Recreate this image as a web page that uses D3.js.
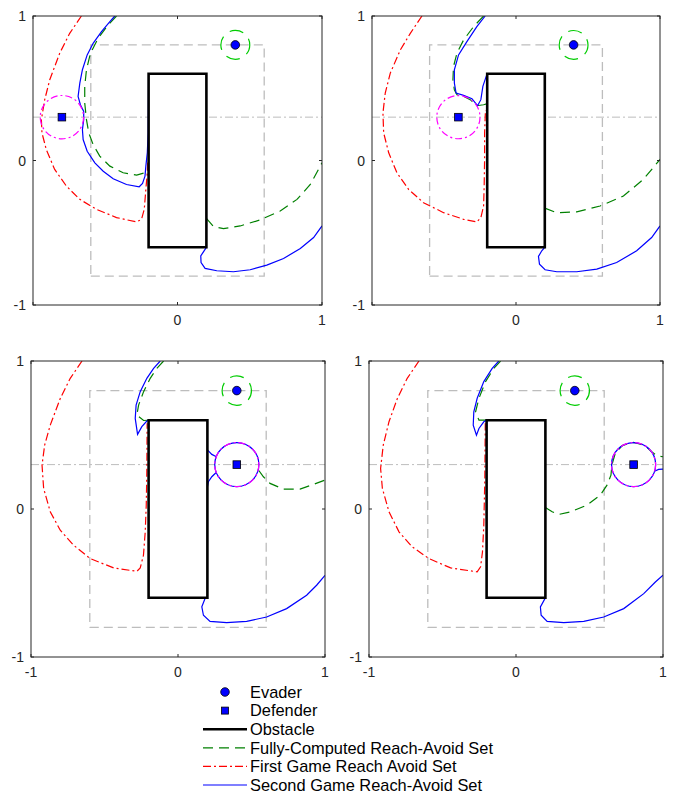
<!DOCTYPE html>
<html>
<head>
<meta charset="utf-8">
<script src="https://cdn.jsdelivr.net/npm/d3@7"></script>
<style>
  body { margin: 0; background: #fff; }
  text { font-family: "Liberation Sans", Arial, sans-serif; }
</style>
</head>
<body>
<div id="chartContainer"></div>
<script>
// reach-avoid game snapshots, 4 panels

var evader = [0.4, 0.8];
var evaderRadius = 0.1;
var defenders = [[-0.8, 0.3], [-0.4, 0.3], [0.4, 0.3], [0.8, 0.3]];
var captureRadius = 0.15;
var obstacle = [[-0.2, -0.6], [0.2, -0.6], [0.2, 0.6], [-0.2, 0.6], [-0.2, -0.6]];
var targetBox = [[-0.6, -0.8], [0.6, -0.8], [0.6, 0.8], [-0.6, 0.8], [-0.6, -0.8]];
var guideY = 0.3;
var ringPanels = [2, 3]; // panels where second set wraps the capture circle

var xTicks = [[0, 1], [0, 1], [-1, 0, 1], [-1, 0, 1]];
var yTicks = [-1, 0, 1];

// Fully-Computed Reach-Avoid Set (green dashed), pieces per panel
var fullSet = [
  [
    [[-0.422, 1.0], [-0.480, 0.938], [-0.549, 0.846], [-0.602, 0.743], [-0.630, 0.628], [-0.642, 0.513], [-0.642, 0.398], [-0.630, 0.283], [-0.614, 0.191], [-0.584, 0.110], [-0.538, 0.030], [-0.468, -0.039], [-0.376, -0.085], [-0.283, -0.101], [-0.225, -0.085], [-0.2, -0.06]],
    [[0.2, -0.40], [0.249, -0.457], [0.318, -0.471], [0.434, -0.453], [0.572, -0.411], [0.711, -0.349], [0.827, -0.269], [0.919, -0.166], [1.0, -0.016]]
  ],
  [
    [[-0.225, 1.0], [-0.295, 0.926], [-0.364, 0.834], [-0.410, 0.743], [-0.434, 0.651], [-0.438, 0.559], [-0.428, 0.490], [-0.410, 0.455], [-0.364, 0.444], [-0.318, 0.421], [-0.272, 0.379], [-0.225, 0.386], [-0.2, 0.393]],
    [[0.2, -0.33], [0.283, -0.361], [0.422, -0.356], [0.584, -0.315], [0.746, -0.246], [0.884, -0.131], [1.0, 0.007]]
  ],
  [
    [[-0.098, 1.0], [-0.144, 0.950], [-0.189, 0.883], [-0.234, 0.793], [-0.268, 0.702], [-0.280, 0.635], [-0.234, 0.598], [-0.2, 0.6]],
    [[0.55, 0.26], [0.581, 0.218], [0.626, 0.173], [0.717, 0.134], [0.830, 0.134], [0.921, 0.166], [1.0, 0.195]]
  ],
  [
    [[-0.105, 1.0], [-0.151, 0.950], [-0.207, 0.861], [-0.252, 0.748], [-0.275, 0.657], [-0.252, 0.600], [-0.2, 0.6]],
    [[0.2, 0.01], [0.246, -0.019], [0.291, -0.037], [0.370, -0.019], [0.483, 0.026], [0.574, 0.094], [0.619, 0.161], [0.646, 0.229], [0.653, 0.300], [0.675, 0.375], [0.725, 0.430], [0.800, 0.450], [0.875, 0.430], [0.925, 0.385], [0.96, 0.36], [1.0, 0.353]]
  ]
];

// First Game Reach Avoid Set (red dash-dot)
var firstSet = [
  [
    [[-0.665, 1.0], [-0.746, 0.880], [-0.815, 0.743], [-0.884, 0.559], [-0.919, 0.421], [-0.942, 0.283], [-0.938, 0.191], [-0.908, 0.076], [-0.850, -0.062], [-0.769, -0.177], [-0.676, -0.269], [-0.561, -0.338], [-0.422, -0.395], [-0.283, -0.425], [-0.249, -0.407], [-0.230, -0.338], [-0.219, -0.200], [-0.209, -0.085], [-0.205, 0.0]]
  ],
  [
    [[-0.653, 1.0], [-0.734, 0.880], [-0.803, 0.766], [-0.873, 0.605], [-0.908, 0.467], [-0.924, 0.329], [-0.919, 0.191], [-0.884, 0.053], [-0.827, -0.085], [-0.746, -0.200], [-0.642, -0.292], [-0.503, -0.361], [-0.364, -0.407], [-0.272, -0.425], [-0.244, -0.395], [-0.225, -0.315], [-0.221, -0.177], [-0.218, 0.007], [-0.218, 0.191], [-0.212, 0.35]]
  ],
  [
    [[-0.653, 1.0], [-0.733, 0.883], [-0.801, 0.747], [-0.869, 0.567], [-0.907, 0.432], [-0.925, 0.297], [-0.914, 0.139], [-0.869, -0.019], [-0.801, -0.143], [-0.710, -0.245], [-0.597, -0.335], [-0.438, -0.398], [-0.280, -0.421], [-0.257, -0.398], [-0.235, -0.313], [-0.223, -0.155], [-0.216, 0.026], [-0.212, 0.251], [-0.210, 0.58]]
  ],
  [
    [[-0.660, 1.0], [-0.740, 0.883], [-0.807, 0.747], [-0.864, 0.590], [-0.903, 0.432], [-0.921, 0.274], [-0.909, 0.139], [-0.864, -0.019], [-0.796, -0.154], [-0.706, -0.256], [-0.592, -0.335], [-0.445, -0.398], [-0.264, -0.425], [-0.241, -0.391], [-0.228, -0.290], [-0.219, -0.110], [-0.212, 0.206], [-0.209, 0.58]]
  ]
];

// Second Game Reach-Avoid Set (blue solid)
var secondSet = [
  [
    [[-0.434, 1.0], [-0.468, 0.961], [-0.526, 0.892], [-0.584, 0.811], [-0.625, 0.731], [-0.658, 0.628], [-0.676, 0.536], [-0.688, 0.444], [-0.672, 0.386], [-0.649, 0.340], [-0.649, 0.283], [-0.658, 0.214], [-0.653, 0.145], [-0.625, 0.064], [-0.572, -0.016], [-0.514, -0.074], [-0.445, -0.126], [-0.353, -0.166], [-0.265, -0.182], [-0.242, -0.159], [-0.225, -0.108], [-0.219, -0.039], [-0.209, 0.053], [-0.203, 0.191], [-0.2, 0.6], [0.2, 0.6], [0.2, -0.6], [0.184, -0.625], [0.161, -0.660], [0.163, -0.706], [0.191, -0.747], [0.272, -0.763], [0.387, -0.770], [0.503, -0.756], [0.618, -0.724], [0.734, -0.678], [0.850, -0.609], [0.942, -0.533], [1.0, -0.453]]
  ],
  [
    [[-0.214, 1.0], [-0.272, 0.926], [-0.341, 0.823], [-0.399, 0.731], [-0.428, 0.628], [-0.428, 0.536], [-0.416, 0.467], [-0.364, 0.451], [-0.306, 0.428], [-0.267, 0.379], [-0.244, 0.421], [-0.230, 0.513], [-0.207, 0.582], [-0.2, 0.6], [0.2, 0.6], [0.2, -0.6], [0.179, -0.625], [0.156, -0.664], [0.163, -0.717], [0.202, -0.756], [0.283, -0.770], [0.422, -0.770], [0.561, -0.752], [0.699, -0.706], [0.838, -0.625], [0.942, -0.533], [1.0, -0.453]]
  ],
  [
    [[-0.121, 1.0], [-0.166, 0.950], [-0.212, 0.883], [-0.257, 0.793], [-0.285, 0.702], [-0.291, 0.612], [-0.275, 0.504], [-0.246, 0.556], [-0.212, 0.594], [-0.2, 0.6], [0.2, 0.6], [0.2, 0.40], [0.230, 0.369], [0.258, 0.355]],
    [[0.258, 0.245], [0.230, 0.218], [0.207, 0.184], [0.2, 0.15], [0.2, -0.6], [0.184, -0.605], [0.162, -0.661], [0.173, -0.718], [0.218, -0.759], [0.331, -0.768], [0.467, -0.759], [0.603, -0.730], [0.739, -0.673], [0.875, -0.583], [0.943, -0.515], [1.0, -0.448]]
  ],
  [
    [[-0.117, 1.0], [-0.162, 0.950], [-0.219, 0.861], [-0.264, 0.748], [-0.287, 0.657], [-0.291, 0.567], [-0.269, 0.499], [-0.252, 0.544], [-0.219, 0.589], [-0.2, 0.6], [0.2, 0.6], [0.2, -0.6], [0.166, -0.662], [0.171, -0.718], [0.212, -0.759], [0.325, -0.768], [0.461, -0.759], [0.597, -0.730], [0.733, -0.673], [0.869, -0.572], [0.948, -0.493], [1.0, -0.448]],
    [[0.942, 0.255], [0.97, 0.268], [1.0, 0.27]]
  ]
];

var legendLabels = ["Evader", "Defender", "Obstacle", "Fully-Computed Reach-Avoid Set", "First Game Reach Avoid Set", "Second Game Reach-Avoid Set"];

// pixel boxes of the four axes
var boxes = [
  {x0: 33, x1: 322, y0: 16, y1: 305},
  {x0: 372, x1: 660, y0: 16, y1: 305},
  {x0: 31, x1: 325, y0: 361, y1: 657},
  {x0: 369, x1: 663, y0: 361, y1: 657}
];

var green = "#008000";
var red = "#ff0000";
var blue = "#0000ff";
var magenta = "#ff00ff";
var gray = "#bdbdbd";
var axisColor = "#262626";

var svg = d3.select("#chartContainer").append("svg")
  .attr("width", 677)
  .attr("height", 793);

boxes.forEach(function(b, i) {
  var x = d3.scaleLinear().domain([-1, 1]).range([b.x0, b.x1]);
  var y = d3.scaleLinear().domain([-1, 1]).range([b.y1, b.y0]);
  var line = d3.line().x(function(d) { return x(d[0]); }).y(function(d) { return y(d[1]); });

  var clipId = "clip" + i;
  svg.append("clipPath").attr("id", clipId)
    .append("rect")
    .attr("x", b.x0).attr("y", b.y0)
    .attr("width", b.x1 - b.x0).attr("height", b.y1 - b.y0);

  var g = svg.append("g").attr("clip-path", "url(#" + clipId + ")");

  // guide line and target box
  g.append("path")
    .attr("d", line([[-1, guideY], [1, guideY]]))
    .style("fill", "none").style("stroke", gray).style("stroke-width", 1)
    .style("stroke-dasharray", "8,3,2,3");

  g.append("path")
    .attr("d", line(targetBox))
    .style("fill", "none").style("stroke", gray).style("stroke-width", 1.3)
    .style("stroke-dasharray", "9,5");

  // level sets
  fullSet[i].forEach(function(seg) {
    g.append("path").attr("d", line(seg))
      .style("fill", "none").style("stroke", green).style("stroke-width", 1.2)
      .style("stroke-dasharray", "10,6");
  });

  firstSet[i].forEach(function(seg) {
    g.append("path").attr("d", line(seg))
      .style("fill", "none").style("stroke", red).style("stroke-width", 1.2)
      .style("stroke-dasharray", "8,3,2,3");
  });

  secondSet[i].forEach(function(seg) {
    g.append("path").attr("d", line(seg))
      .style("fill", "none").style("stroke", blue).style("stroke-width", 1.2);
  });

  var def = defenders[i];
  var rPx = x(captureRadius) - x(0);

  if (ringPanels.indexOf(i) >= 0) {
    g.append("circle")
      .attr("cx", x(def[0])).attr("cy", y(def[1])).attr("r", rPx)
      .style("fill", "none").style("stroke", blue).style("stroke-width", 1.2);
  }

  // capture circle
  g.append("circle")
    .attr("cx", x(def[0])).attr("cy", y(def[1])).attr("r", rPx)
    .style("fill", "none").style("stroke", magenta).style("stroke-width", 1.2)
    .style("stroke-dasharray", "7,3,2,3");

  // evader circle
  g.append("circle")
    .attr("cx", x(evader[0])).attr("cy", y(evader[1])).attr("r", x(evaderRadius) - x(0))
    .style("fill", "none").style("stroke", "#00cc00").style("stroke-width", 1.2)
    .style("stroke-dasharray", "14,8")
    .style("stroke-dashoffset", 4);

  // obstacle
  g.append("path")
    .attr("d", line(obstacle) + "Z")
    .style("fill", "#fff").style("stroke", "#000").style("stroke-width", 2.6);

  // markers
  g.append("circle")
    .attr("cx", x(evader[0])).attr("cy", y(evader[1])).attr("r", 4.3)
    .style("fill", blue).style("stroke", "#000").style("stroke-width", 0.8);

  g.append("rect")
    .attr("x", x(def[0]) - 3.8).attr("y", y(def[1]) - 3.8)
    .attr("width", 7.6).attr("height", 7.6)
    .style("fill", blue).style("stroke", "#000").style("stroke-width", 0.8);

  // axes box
  svg.append("rect")
    .attr("x", b.x0).attr("y", b.y0)
    .attr("width", b.x1 - b.x0).attr("height", b.y1 - b.y0)
    .style("fill", "none").style("stroke", axisColor).style("stroke-width", 1);

  // ticks inward on all four sides
  var tk = 3;
  [-1, 0, 1].forEach(function(v) {
    svg.append("line").attr("x1", x(v)).attr("x2", x(v)).attr("y1", b.y1).attr("y2", b.y1 - tk)
      .style("stroke", axisColor);
    svg.append("line").attr("x1", x(v)).attr("x2", x(v)).attr("y1", b.y0).attr("y2", b.y0 + tk)
      .style("stroke", axisColor);
    svg.append("line").attr("y1", y(v)).attr("y2", y(v)).attr("x1", b.x0).attr("x2", b.x0 + tk)
      .style("stroke", axisColor);
    svg.append("line").attr("y1", y(v)).attr("y2", y(v)).attr("x1", b.x1).attr("x2", b.x1 - tk)
      .style("stroke", axisColor);
  });

  xTicks[i].forEach(function(v) {
    svg.append("text")
      .attr("x", x(v)).attr("y", b.y1 + 20)
      .attr("text-anchor", "middle")
      .style("font-size", "14px").style("fill", axisColor)
      .text(v);
  });

  yTicks.forEach(function(v) {
    svg.append("text")
      .attr("x", b.x0 - 7).attr("y", y(v) + 5)
      .attr("text-anchor", "end")
      .style("font-size", "14px").style("fill", axisColor)
      .text(v);
  });
});

// legend
var lg = svg.append("g");
var rowY = d3.scalePoint().domain(legendLabels).range([692, 785]);
var lx0 = 203, lx1 = 247, tx = 250;

lg.append("circle").attr("cx", 225).attr("cy", rowY(legendLabels[0])).attr("r", 4.3)
  .style("fill", blue).style("stroke", "#000").style("stroke-width", 0.8);
lg.append("rect").attr("x", 221.5).attr("y", rowY(legendLabels[1]) - 3.5).attr("width", 7).attr("height", 7)
  .style("fill", blue).style("stroke", "#000").style("stroke-width", 0.8);

var legendStyles = [null, null,
  {c: "#000", w: 2.6, d: null},
  {c: green, w: 1.2, d: "10,6"},
  {c: red, w: 1.2, d: "8,3,2,3"},
  {c: blue, w: 1.2, d: null}];

legendStyles.forEach(function(s, k) {
  if (!s) return;
  lg.append("line")
    .attr("x1", lx0).attr("x2", lx1)
    .attr("y1", rowY(legendLabels[k])).attr("y2", rowY(legendLabels[k]))
    .style("stroke", s.c).style("stroke-width", s.w)
    .style("stroke-dasharray", s.d);
});

legendLabels.forEach(function(t) {
  lg.append("text")
    .attr("x", tx).attr("y", rowY(t) + 5.8)
    .style("font-size", "16.4px").style("fill", "#000")
    .text(t);
});
</script>
</body>
</html>
